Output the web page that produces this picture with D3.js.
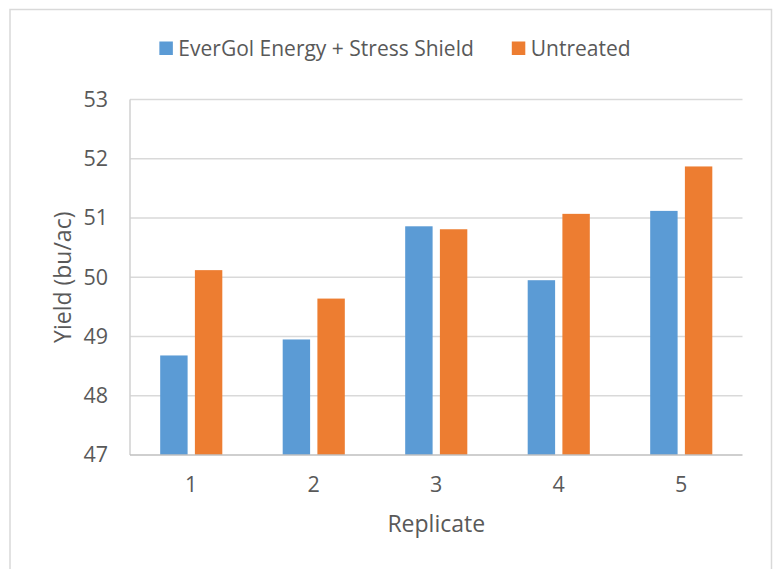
<!DOCTYPE html>
<html>
<head>
<meta charset="utf-8">
<script src="https://cdn.jsdelivr.net/npm/d3@7"></script>
<style>
  body { margin: 0; background: #fff; }
  text { font-family: "Open Sans", sans-serif; fill: #595959; }
</style>
</head>
<body>
<div id="chart"></div>
<script>
// Yield by replicate
const replicates = ["1", "2", "3", "4", "5"];
const seriesNames = ["EverGol Energy + Stress Shield", "Untreated"];
const evergol = [48.68, 48.95, 50.86, 49.95, 51.12];
const untreated = [50.12, 49.64, 50.81, 51.07, 51.87];
const yTicks = [47, 48, 49, 50, 51, 52, 53];
const colors = ["#5B9BD5", "#ED7D31"];

const data = replicates.map((r, i) => ({
    rep: r,
    values: [evergol[i], untreated[i]]
}));

const W = 775, H = 569;
const plot = { left: 130, right: 742.5, top: 99.5, bottom: 455 };

const svg = d3.select("#chart").append("svg")
    .attr("width", W)
    .attr("height", H);

svg.append("rect")
    .attr("width", W).attr("height", H)
    .attr("fill", "#fff");

// chart area border (runs off the bottom of the picture)
svg.append("rect")
    .attr("x", 10).attr("y", 9.5)
    .attr("width", 761.5).attr("height", 600)
    .attr("fill", "none")
    .attr("stroke", "#D9D9D9")
    .attr("stroke-width", 1.5);

const x0 = d3.scaleBand()
    .domain(replicates)
    .range([plot.left, plot.right]);

const x1 = d3.scaleBand()
    .domain(d3.range(seriesNames.length))
    .range([0, x0.bandwidth()])
    .paddingInner(0.21)
    .paddingOuter(0.87);

const y = d3.scaleLinear()
    .domain([47, 53])
    .range([plot.bottom, plot.top]);

// gridlines
svg.append("g")
    .selectAll("line")
    .data(yTicks.slice(1))
    .join("line")
    .attr("x1", plot.left).attr("x2", plot.right)
    .attr("y1", d => y(d)).attr("y2", d => y(d))
    .attr("stroke", "#D9D9D9")
    .attr("stroke-width", 1.5);

// bars
svg.append("g")
    .selectAll("g")
    .data(data)
    .join("g")
    .attr("transform", d => "translate(" + x0(d.rep) + ",0)")
    .selectAll("rect")
    .data(d => d.values.map((v, i) => ({ v, i })))
    .join("rect")
    .attr("x", d => x1(d.i))
    .attr("width", x1.bandwidth())
    .attr("y", d => y(d.v))
    .attr("height", d => y(47) - y(d.v))
    .attr("fill", d => colors[d.i]);

// axis lines
svg.append("line")
    .attr("x1", plot.left).attr("x2", plot.left)
    .attr("y1", plot.top).attr("y2", plot.bottom)
    .attr("stroke", "#D0D0D0").attr("stroke-width", 1.5);
svg.append("line")
    .attr("x1", plot.left).attr("x2", plot.right)
    .attr("y1", plot.bottom).attr("y2", plot.bottom)
    .attr("stroke", "#BFBFBF").attr("stroke-width", 1.5);

// y tick labels
const yAxis = svg.append("g")
    .attr("transform", "translate(" + plot.left + ",0)")
    .call(d3.axisLeft(y).tickValues(yTicks).tickFormat(d3.format("d")).tickSize(0).tickPadding(22));
yAxis.select(".domain").remove();
yAxis.selectAll("text")
    .style("font-size", "21.5px")
    .attr("fill", "#595959");

// x tick labels
const xAxis = svg.append("g")
    .attr("transform", "translate(0," + plot.bottom + ")")
    .call(d3.axisBottom(x0).tickSize(0).tickPadding(22));
xAxis.select(".domain").remove();
xAxis.selectAll("text")
    .style("font-size", "21.5px")
    .attr("fill", "#595959");

// axis titles
svg.append("text")
    .attr("x", (plot.left + plot.right) / 2)
    .attr("y", 532)
    .attr("text-anchor", "middle")
    .style("font-size", "23px")
    .text("Replicate");

svg.append("text")
    .attr("transform", "translate(71," + (plot.top + plot.bottom) / 2 + ") rotate(-90)")
    .attr("text-anchor", "middle")
    .style("font-size", "23px")
    .text("Yield (bu/ac)");

// legend, centred in the chart area
const legend = svg.append("g");
const items = legend.selectAll("g")
    .data(seriesNames)
    .join("g");
items.append("rect")
    .attr("y", 41.5)
    .attr("width", 13.5).attr("height", 13.5)
    .attr("fill", (d, i) => colors[i]);
items.append("text")
    .attr("x", 19)
    .attr("y", 55.5)
    .style("font-size", "21px")
    .text(d => d);

let cx = 0;
items.each(function() {
    const g = d3.select(this);
    g.attr("transform", "translate(" + cx + ",0)");
    cx += 19 + g.select("text").node().getComputedTextLength() + 38;
});
cx -= 38;
legend.attr("transform", "translate(" + (395 - cx / 2) + ",0)");
</script>
</body>
</html>
